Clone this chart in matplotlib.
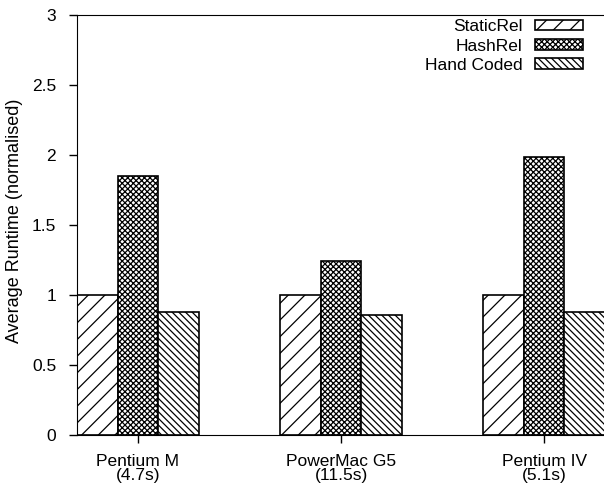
import matplotlib
matplotlib.use("Agg")
import matplotlib.pyplot as plt
import numpy as np

plt.rcParams['font.family'] = ['Liberation Sans', 'DejaVu Sans']
plt.rcParams['hatch.linewidth'] = 0.9

categories = ["Pentium M\n(4.7s)", "PowerMac G5\n(11.5s)", "Pentium IV\n(5.1s)"]
series_names = ["StaticRel", "HashRel", "Hand Coded"]
static_rel = [1.0, 1.0, 1.0]
hash_rel = [1.85, 1.245, 1.984]
hand_coded = [0.88, 0.857, 0.881]
yticks = [0, 0.5, 1, 1.5, 2, 2.5, 3]
yticklabels = ["0", "0.5", "1", "1.5", "2", "2.5", "3"]

FS = 12.5
fig = plt.figure(figsize=(6.04, 4.88), dpi=100)
ax = fig.add_axes([77/604, 1 - 435/488, 528/604, 420/488])

x = np.arange(len(categories))
w = 0.2
hatches = ['//', 'xxxxxx', '\\\\\\\\\\']
for i, (vals, name, h) in enumerate(zip([static_rel, hash_rel, hand_coded], series_names, hatches)):
    ax.bar(x + (i - 1) * w, vals, w, facecolor='white', edgecolor='black',
           hatch=h, linewidth=1.2, label=name)

ax.set_xlim(-0.3, 2.3)
ax.set_ylim(0, 3)
ax.set_yticks(yticks)
ax.set_yticklabels(yticklabels)
ax.set_xticks(x)
ax.set_xticklabels(categories, linespacing=0.9)
ax.tick_params(axis='both', direction='out', length=6, labelsize=FS, width=1)
ax.tick_params(axis='x', pad=8)
ax.tick_params(axis='y', pad=9)
ax.set_ylabel("Average Runtime (normalised)", fontsize=13)
ax.yaxis.set_label_coords(-0.103, 0.51)

leg = ax.legend(loc='upper right', frameon=False, markerfirst=False, fontsize=FS,
                handlelength=2.76, handleheight=0.58, labelspacing=0.25,
                borderaxespad=0, borderpad=0, handletextpad=0.7,
                bbox_to_anchor=(0.958, 0.99))
for t in leg.get_texts():
    t.set_ha('right')

fig.savefig("out.png", dpi=100)
